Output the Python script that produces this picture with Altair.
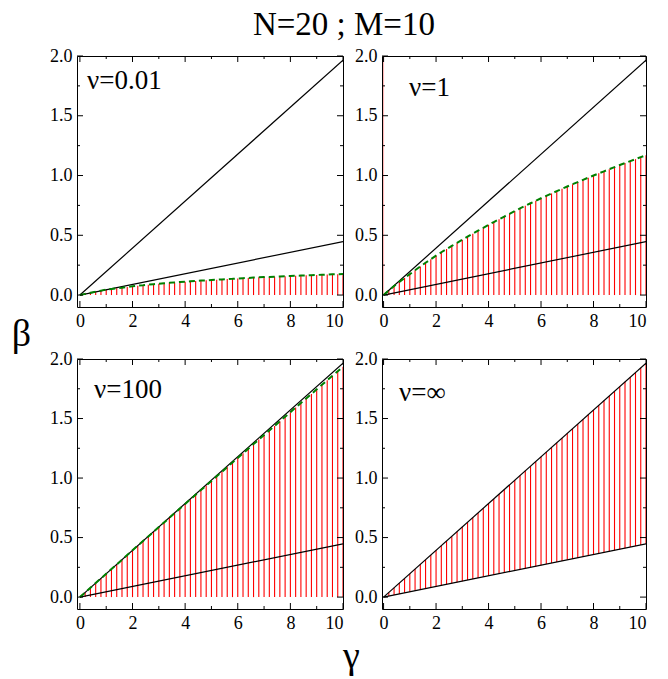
import altair as alt
import pandas as pd

SERIF = "Liberation Serif"

TITLE = "N=20 ; M=10"
PANEL_LABELS = ["ν=0.01", "ν=1", "ν=100", "ν=∞"]
X_TITLE = "γ"
Y_TITLE = "β"

# stem positions (gamma)
GAMMA = [0.0, 0.2, 0.4, 0.6, 0.8, 1.0, 1.2, 1.4, 1.6, 1.8,
         2.0, 2.2, 2.4, 2.6, 2.8, 3.0, 3.2, 3.4, 3.6, 3.8,
         4.0, 4.2, 4.4, 4.6, 4.8, 5.0, 5.2, 5.4, 5.6, 5.8,
         6.0, 6.2, 6.4, 6.6, 6.8, 7.0, 7.2, 7.4, 7.6, 7.8,
         8.0, 8.2, 8.4, 8.6, 8.8, 9.0, 9.2, 9.4, 9.6, 9.8, 10.0]

# beta (dashed green curve / stem tops), nu = 0.01
BETA_NU001 = [0.000, 0.010, 0.019, 0.028, 0.037, 0.045, 0.051, 0.057, 0.062, 0.068,
              0.073, 0.078, 0.082, 0.087, 0.091, 0.095, 0.099, 0.102, 0.106, 0.109,
              0.112, 0.115, 0.118, 0.121, 0.123, 0.126, 0.129, 0.131, 0.134, 0.136,
              0.139, 0.141, 0.143, 0.146, 0.148, 0.150, 0.152, 0.154, 0.156, 0.158,
              0.159, 0.161, 0.163, 0.165, 0.166, 0.168, 0.170, 0.171, 0.173, 0.174, 0.176]
# nu = 1
BETA_NU1 = [0.000, 0.038, 0.075, 0.110, 0.143, 0.175, 0.207, 0.239, 0.270, 0.300,
            0.330, 0.358, 0.385, 0.411, 0.437, 0.462, 0.488, 0.513, 0.538, 0.563,
            0.588, 0.611, 0.634, 0.657, 0.680, 0.703, 0.725, 0.747, 0.768, 0.789,
            0.810, 0.830, 0.850, 0.869, 0.889, 0.908, 0.927, 0.945, 0.963, 0.982,
            1.000, 1.018, 1.035, 1.053, 1.070, 1.088, 1.104, 1.121, 1.137, 1.154, 1.170]
# nu = 100
BETA_NU100 = [0.000, 0.039, 0.079, 0.118, 0.157, 0.196, 0.235, 0.274, 0.313, 0.353,
              0.393, 0.432, 0.471, 0.510, 0.549, 0.588, 0.627, 0.666, 0.705, 0.744,
              0.782, 0.821, 0.860, 0.899, 0.937, 0.976, 1.015, 1.053, 1.092, 1.131,
              1.169, 1.208, 1.246, 1.285, 1.323, 1.362, 1.400, 1.438, 1.477, 1.515,
              1.553, 1.592, 1.630, 1.668, 1.706, 1.745, 1.783, 1.821, 1.859, 1.897, 1.935]
# nu = infinity: stems fill the band between the two bounding lines
BAND_UPPER = [0.000, 0.039, 0.079, 0.118, 0.157, 0.197, 0.236, 0.275, 0.314, 0.354,
              0.393, 0.432, 0.472, 0.511, 0.550, 0.590, 0.629, 0.668, 0.707, 0.747,
              0.786, 0.825, 0.865, 0.904, 0.943, 0.983, 1.022, 1.061, 1.100, 1.140,
              1.179, 1.218, 1.258, 1.297, 1.336, 1.376, 1.415, 1.454, 1.493, 1.533,
              1.572, 1.611, 1.651, 1.690, 1.729, 1.769, 1.808, 1.847, 1.886, 1.926, 1.965]
BAND_LOWER = [0.000, 0.009, 0.018, 0.027, 0.036, 0.045, 0.054, 0.063, 0.072, 0.080,
              0.089, 0.098, 0.107, 0.116, 0.125, 0.134, 0.143, 0.152, 0.161, 0.170,
              0.179, 0.188, 0.197, 0.206, 0.215, 0.224, 0.232, 0.241, 0.250, 0.259,
              0.268, 0.277, 0.286, 0.295, 0.304, 0.313, 0.322, 0.331, 0.340, 0.349,
              0.358, 0.367, 0.376, 0.384, 0.393, 0.402, 0.411, 0.420, 0.429, 0.438, 0.447]

# the two straight bounding lines
LINE_X = [0.0, 10.0]
LINE_UPPER = [0.0, 1.965]
LINE_LOWER = [0.0, 0.447]

# the stem at gamma = 0 of the nu = 1 panel (runs off the top)
NU1_EDGE_X = [0.0]
NU1_EDGE_LO = [0.0]
NU1_EDGE_HI = [2.0]

X_MAJOR = [0, 2, 4, 6, 8, 10]
X_MINOR = [1, 3, 5, 7, 9]
Y_MAJOR = [0.0, 0.5, 1.0, 1.5, 2.0]
Y_MINOR = [0.25, 0.75, 1.25, 1.75]


def panel(label, lo, hi, green, w, h, xmin, label_pos, beta_title=False,
          gamma_title=False, edge=False):
    xs = alt.Scale(domain=[xmin, 10.0], nice=False, zero=False)
    ys = alt.Scale(domain=[-0.1, 2.0], nice=False, zero=False)
    if gamma_title:
        xa = alt.Axis(values=X_MAJOR, ticks=False, domain=False, grid=False,
                      labelPadding=5, format="d", title=X_TITLE, titleFont=SERIF,
                      titleFontSize=38, titleFontWeight="normal", titleX=274,
                      titleY=58, titleAlign="center", titleBaseline="alphabetic",
                      titleColor="black")
    else:
        xa = alt.Axis(values=X_MAJOR, ticks=False, domain=False, grid=False,
                      labelPadding=5, format="d", title=None)
    if beta_title:
        ya = alt.Axis(values=Y_MAJOR, ticks=False, domain=False, grid=False,
                      labelPadding=5, format=".1f", title=Y_TITLE, titleFont=SERIF,
                      titleFontSize=38, titleFontWeight="normal", titleAngle=0,
                      titleX=-56, titleY=289, titleAlign="center",
                      titleBaseline="alphabetic", titleColor="black")
    else:
        ya = alt.Axis(values=Y_MAJOR, ticks=False, domain=False, grid=False,
                      labelPadding=5, format=".1f", title=None)
    X = alt.X("g:Q", scale=xs, axis=xa)
    Y = alt.Y("b:Q", scale=ys, axis=ya)

    layers = []
    stems = pd.DataFrame({"g": GAMMA, "b": lo, "b2": hi})
    layers.append(alt.Chart(stems).mark_rule(color="#ff0000", strokeWidth=1.1, clip=True)
                  .encode(x=X, y=Y, y2="b2:Q"))
    if edge:
        e = pd.DataFrame({"g": NU1_EDGE_X, "b": NU1_EDGE_LO, "b2": NU1_EDGE_HI})
        layers.append(alt.Chart(e).mark_rule(color="#ff0000", strokeWidth=1,
                                             opacity=0.3, clip=True)
                      .encode(x=X, y=Y, y2="b2:Q"))
    for ly in (LINE_UPPER, LINE_LOWER):
        d = pd.DataFrame({"g": LINE_X, "b": ly})
        layers.append(alt.Chart(d).mark_line(color="black", strokeWidth=1.2, clip=True)
                      .encode(x=X, y=Y))
    if green is not None:
        gd = pd.DataFrame({"g": GAMMA, "b": green})
        layers.append(alt.Chart(gd).mark_line(color="#008000", strokeWidth=2,
                                              strokeDash=[6, 4], clip=True)
                      .encode(x=X, y=Y))
    # inward ticks on all four sides
    for vals, ln in ((X_MAJOR, 6), (X_MINOR, 3)):
        d = pd.DataFrame({"g": vals})
        layers.append(alt.Chart(d).mark_rule(color="black", strokeWidth=1)
                      .encode(x=X, y=alt.value(h), y2=alt.value(h - ln)))
        layers.append(alt.Chart(d).mark_rule(color="black", strokeWidth=1)
                      .encode(x=X, y=alt.value(0), y2=alt.value(ln)))
    for vals, ln in ((Y_MAJOR, 6), (Y_MINOR, 3)):
        d = pd.DataFrame({"b": vals})
        layers.append(alt.Chart(d).mark_rule(color="black", strokeWidth=1)
                      .encode(y=Y, x=alt.value(0), x2=alt.value(ln)))
        layers.append(alt.Chart(d).mark_rule(color="black", strokeWidth=1)
                      .encode(y=Y, x=alt.value(w), x2=alt.value(w - ln)))
    layers.append(alt.Chart(alt.Data(values=[{}])).mark_text(
        align="left", baseline="alphabetic", font=SERIF, fontSize=27, color="black")
        .encode(x=alt.value(label_pos[0]), y=alt.value(label_pos[1]),
                text=alt.value(label)))
    return alt.layer(*layers).properties(width=w, height=h)


p1 = panel(PANEL_LABELS[0], [0.0] * 51, BETA_NU001, BETA_NU001, 266, 251, -0.11,
           (10, 33), beta_title=True)
p2 = panel(PANEL_LABELS[1], [0.0] * 51, BETA_NU1, BETA_NU1, 264, 251, -0.06,
           (27, 40), edge=True)
p3 = panel(PANEL_LABELS[2], [0.0] * 51, BETA_NU100, BETA_NU100, 266, 250, -0.11,
           (17, 39), gamma_title=True)
p4 = panel(PANEL_LABELS[3], BAND_LOWER, BAND_UPPER, None, 264, 250, -0.06,
           (17, 42))

chart = alt.concat(p1, p2, p3, p4, columns=2, spacing={"row": 52, "column": 39},
                   bounds="flush").properties(
    title=alt.TitleParams(TITLE, font=SERIF, fontSize=33, fontWeight="normal",
                          anchor="middle", color="black", offset=5, dx=15),
    padding={"left": 2, "right": 5, "top": 0, "bottom": 5},
).configure_view(stroke="black", strokeWidth=1).configure_axis(
    labelFont=SERIF, labelFontSize=18, labelColor="black"
)

chart.save("out.html", embed_options={"renderer": "svg", "actions": False})
